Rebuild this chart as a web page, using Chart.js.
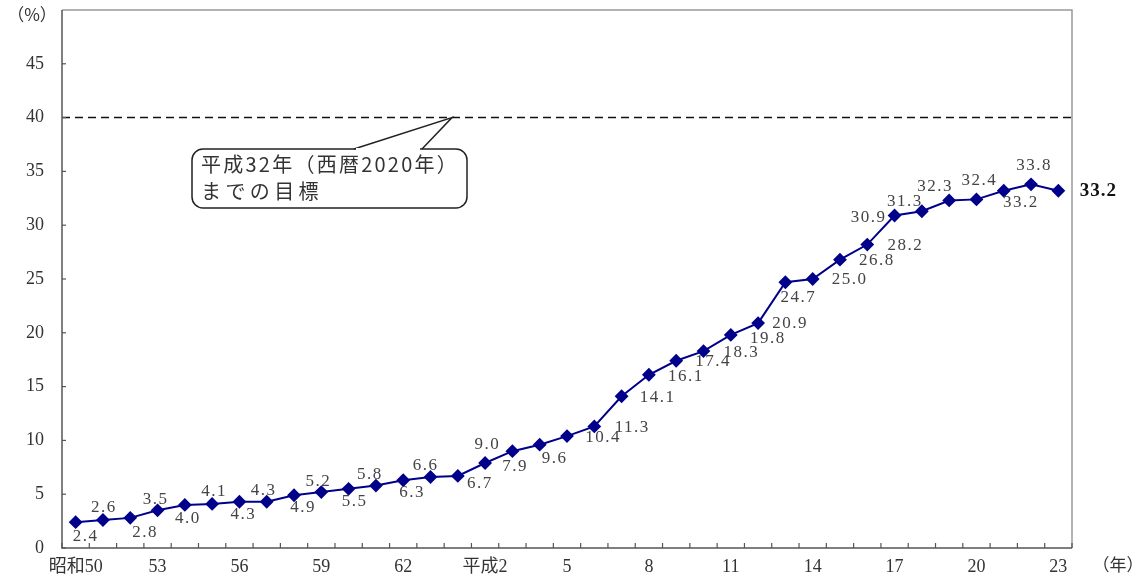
<!DOCTYPE html>
<html>
<head>
<meta charset="utf-8">
<script src="https://cdn.jsdelivr.net/npm/chart.js@4.4.0/dist/chart.umd.min.js"></script>
<style>
  html, body { margin: 0; padding: 0; background: #fff; }
  #wrap { width: 1146px; height: 579px; }
</style>
</head>
<body>
<div id="wrap"><canvas id="chart"></canvas></div>
<script>
'use strict'

// 年（昭和50年〜平成23年）
const years = ['昭和50', '51', '52', '53', '54', '55', '56', '57', '58', '59', '60', '61', '62', '63',
    '平成元', '2', '3', '4', '5', '6', '7', '8', '9', '10', '11', '12', '13', '14', '15', '16',
    '17', '18', '19', '20', '21', '22', '23'];
// 3年ごとの目盛ラベル
const xTickLabels = ['昭和50', '53', '56', '59', '62', '平成2', '5', '8', '11', '14', '17', '20', '23'];
// 割合（%）
const rates = [2.4, 2.6, 2.8, 3.5, 4.0, 4.1, 4.3, 4.3, 4.9, 5.2, 5.5, 5.8, 6.3, 6.6, 6.7,
    7.9, 9.0, 9.6, 10.4, 11.3, 14.1, 16.1, 17.4, 18.3, 19.8, 20.9, 24.7, 25.0, 26.8, 28.2,
    30.9, 31.3, 32.3, 32.4, 33.2, 33.8, 33.2];
const goal = 40; // 平成32年までの目標
const yTicks = [0, 5, 10, 15, 20, 25, 30, 35, 40, 45];

// ラベルの位置ずらし（点からのpx）
const labelShift = [
    [10, 14], [1, -12], [15, 15], [-2, -11], [3, 14], [2, -12], [4, 13], [-3, -11], [9, 12], [-3, -11],
    [6, 13], [-6, -11], [9, 12], [-5, -11], [22, 8], [30, 4], [-25, -7], [15, 14], [36, 1], [38, 1],
    [36, 1], [37, 2], [37, 1], [38, 1], [37, 4], [32, 0], [13, 15], [37, 1], [37, 1], [38, 1],
    [-26, 2], [-17, -10], [-14, -14], [3, -19], [17, 12], [3, -19], [40, 0]
];

const SERIF = '"Liberation Serif", "Noto Sans CJK JP", serif';
const GOTHIC = '"Noto Sans CJK JP", "Noto Sans", sans-serif';

// 幅に合わせて字間を調整して書く
function fillTextFit(ctx, text, x, y, width) {
    ctx.letterSpacing = '0px';
    const w = ctx.measureText(text).width;
    const sp = Math.max(0, (width - w) / text.length);
    ctx.letterSpacing = sp + 'px';
    ctx.fillText(text, x, y);
    ctx.letterSpacing = '0px';
}

const framePlugin = {
    id: 'frame',
    beforeDatasetsDraw(chart) {
        const { ctx, chartArea: a, scales } = chart;
        ctx.save();
        // 目標の点線
        const gy = scales.y.getPixelForValue(goal);
        ctx.strokeStyle = '#111';
        ctx.lineWidth = 1.5;
        ctx.setLineDash([8, 5]);
        ctx.beginPath();
        ctx.moveTo(a.left, gy);
        ctx.lineTo(a.right, gy);
        ctx.stroke();
        ctx.setLineDash([]);

        // 枠
        ctx.lineWidth = 1.5;
        ctx.strokeStyle = '#999';
        ctx.beginPath();
        ctx.moveTo(a.left, a.top);
        ctx.lineTo(a.right, a.top);
        ctx.lineTo(a.right, a.bottom);
        ctx.stroke();
        ctx.strokeStyle = '#555';
        ctx.beginPath();
        ctx.moveTo(a.left, a.top);
        ctx.lineTo(a.left, a.bottom);
        ctx.lineTo(a.right, a.bottom);
        ctx.stroke();

        // 目盛（内向き）
        ctx.lineWidth = 1.2;
        yTicks.forEach(v => {
            const y = scales.y.getPixelForValue(v);
            ctx.beginPath();
            ctx.moveTo(a.left, y);
            ctx.lineTo(a.left + 4, y);
            ctx.stroke();
        });
        const step = scales.x.getPixelForValue(1) - scales.x.getPixelForValue(0);
        for (let i = 0; i <= years.length; i++) {
            const x = scales.x.getPixelForValue(0) - step / 2 + step * i;
            ctx.beginPath();
            ctx.moveTo(x, a.bottom);
            ctx.lineTo(x, a.bottom - 5);
            ctx.stroke();
        }

        // 吹き出し
        const bx = 192, by = 149, bw = 275, bh = 59;
        ctx.strokeStyle = '#222';
        ctx.lineWidth = 1.5;
        ctx.fillStyle = '#fff';
        ctx.beginPath();
        ctx.roundRect(bx, by, bw, bh, 11);
        ctx.fill();
        ctx.stroke();
        const tipX = 452;
        ctx.beginPath();
        ctx.moveTo(354, by);
        ctx.lineTo(tipX, gy);
        ctx.lineTo(422, by);
        ctx.stroke();
        ctx.strokeStyle = '#fff';
        ctx.lineWidth = 2;
        ctx.beginPath();
        ctx.moveTo(356, by);
        ctx.lineTo(420, by);
        ctx.stroke();

        ctx.fillStyle = '#333';
        ctx.font = '20px ' + GOTHIC;
        ctx.textAlign = 'left';
        ctx.textBaseline = 'middle';
        fillTextFit(ctx, '平成32年（西暦2020年）', 201, 164, 258);
        fillTextFit(ctx, 'までの目標', 201, 191, 122);
        ctx.restore();
    },
    afterDatasetsDraw(chart) {
        const { ctx } = chart;
        const meta = chart.getDatasetMeta(0);
        ctx.save();
        ctx.textAlign = 'center';
        ctx.textBaseline = 'middle';
        meta.data.forEach((pt, i) => {
            const last = i === rates.length - 1;
            ctx.fillStyle = last ? '#111' : '#444';
            ctx.font = last ? 'bold 19px ' + SERIF : '17px ' + SERIF;
            ctx.letterSpacing = last ? '1px' : '1.5px';
            ctx.fillText(rates[i].toFixed(1), pt.x + labelShift[i][0], pt.y + labelShift[i][1]);
        });
        ctx.letterSpacing = '0px';

        // 単位
        ctx.fillStyle = '#333';
        ctx.font = '17px ' + GOTHIC;
        ctx.fillText('（%）', 32, 15);
        ctx.fillText('（年）', 1118, 565);
        ctx.restore();
    }
};

new Chart(document.getElementById('chart'), {
    type: 'line',
    data: {
        labels: years,
        datasets: [{
            label: '割合',
            data: rates,
            borderColor: '#00008b',
            backgroundColor: '#00008b',
            borderWidth: 2,
            pointStyle: 'rectRot',
            pointRadius: 5.5,
            pointHoverRadius: 5.5,
            tension: 0,
            fill: false
        }]
    },
    options: {
        responsive: true,
        maintainAspectRatio: false,
        animation: false,
        events: [],
        layout: { padding: { top: 10, right: 74, left: 0, bottom: 0 } },
        plugins: {
            legend: { display: false },
            tooltip: { enabled: false }
        },
        scales: {
            x: {
                offset: true,
                grid: { display: false, drawTicks: false },
                border: { display: false },
                ticks: {
                    autoSkip: false,
                    maxRotation: 0,
                    padding: 8,
                    color: '#333',
                    font: { family: SERIF, size: 18 },
                    callback: (v, i) => (i % 3 === 0 ? xTickLabels[i / 3] : '')
                },
                afterFit: s => { s.height = 31; s.paddingLeft = 0; s.paddingRight = 0; }
            },
            y: {
                min: 0,
                max: 50,
                grid: { display: false, drawTicks: false },
                border: { display: false },
                ticks: {
                    stepSize: 5,
                    padding: 18,
                    color: '#333',
                    font: { family: SERIF, size: 18 },
                    callback: v => (v >= 50 ? '' : v)
                },
                afterFit: s => { s.width = 62; s.paddingTop = 0; s.paddingBottom = 0; }
            }
        }
    },
    plugins: [framePlugin]
});
</script>
</body>
</html>
